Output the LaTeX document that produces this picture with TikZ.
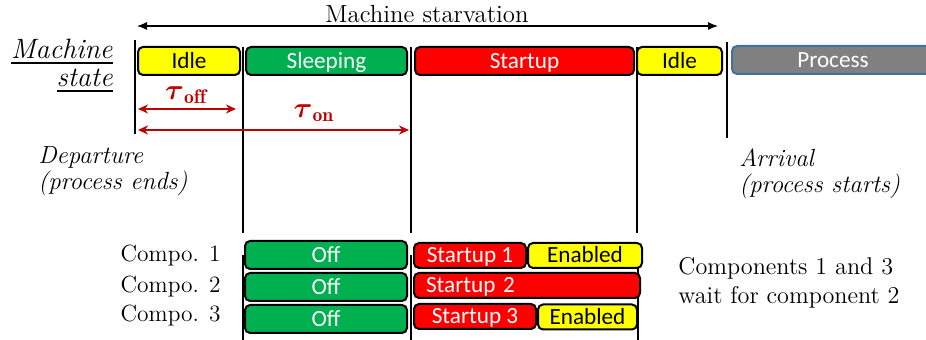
\documentclass[tikz,border=0pt]{standalone}
\usepackage{fontspec}
\usepackage{amsmath}
\usetikzlibrary{arrows.meta}
\newfontfamily\boxfont{Carlito}
\definecolor{idleyellow}{RGB}{255,255,0}
\definecolor{sleepgreen}{RGB}{0,176,80}
\definecolor{startred}{RGB}{255,0,0}
\definecolor{procgray}{RGB}{128,128,128}
\definecolor{procedge}{RGB}{65,113,156}
\definecolor{taured}{RGB}{192,0,0}
\begin{document}
\begin{tikzpicture}[x=0.5pt,y=-0.5pt,
  stbox/.style={draw=black, line width=1pt, rounded corners=2.5pt, inner sep=0pt,
    text height=7.9pt, text depth=0.5pt,
    font=\boxfont\fontsize{11.6}{12}\selectfont},
  yelbox/.style={stbox, fill=idleyellow, text=black},
  grnbox/.style={stbox, fill=sleepgreen, text=white},
  redbox/.style={stbox, fill=startred, text=white},
  prcbox/.style={stbox, draw=procedge, fill=procgray, text=white},
  topbox/.style={minimum height=14pt},
  rowbox/.style={minimum height=12.5pt},
  offbox/.style={grnbox, minimum height=14pt, minimum width=81pt},
  mark line/.style={line width=1pt, black},
  label/.style={font=\fontsize{12.1}{13}\selectfont, inner sep=0pt},
  itlabel/.style={label, font=\fontsize{12.4}{13}\selectfont\itshape},
  bigit/.style={label, font=\fontsize{14}{15}\selectfont\itshape},
  span/.style={line width=0.6pt, {Latex[length=5pt,width=4pt]}-{Latex[length=5pt,width=4pt]}},
  tauspan/.style={line width=1pt, taured, {Stealth[length=5pt,width=4.5pt]}-{Stealth[length=5pt,width=4.5pt]}},
  taulabel/.style={text=taured, inner sep=0pt, font=\fontsize{14}{16}\selectfont}]
\useasboundingbox (0,0) rectangle (926,340);
\clip (0,0) rectangle (926,340);

% event markers (drawn first, boxes sit on top)
\coordinate (m0t) at (135,40);  \coordinate (m0b) at (135,134);
\coordinate (m1t) at (243,47);  \coordinate (m1b) at (243,233);
\coordinate (m2t) at (411,47);  \coordinate (m2b) at (411,233);
\coordinate (m3t) at (637,47);  \coordinate (m3b) at (637,233);
\coordinate (m4t) at (727,42);  \coordinate (m4b) at (727,138);
\coordinate (n1t) at (243,255); \coordinate (n1b) at (243,340);
\coordinate (n2t) at (411,255); \coordinate (n2b) at (411,340);
\coordinate (n3t) at (638,255); \coordinate (n3b) at (638,340);
\foreach \a/\b in {m0t/m0b,m1t/m1b,m2t/m2b,m3t/m3b,m4t/m4b,n1t/n1b,n2t/n2b,n3t/n3b}
  \draw[mark line] (\a) -- (\b);

% starvation span
\coordinate (sl) at (137,26);
\coordinate (sr) at (718,26);
\draw[span] (sl) -- (sr);
\node[label, font=\fontsize{12.4}{13}\selectfont] (starv) at (427,14) {Machine starvation};

% machine state label
\node[bigit, anchor=east] (mach) at (113,52) {\underline{Machine}};
\node[bigit, anchor=east] (mstate) at (113,81) {\underline{state}};

% machine state timeline
\node[yelbox, topbox, minimum width=51pt] (idle1) at (189,61) {Idle};
\node[grnbox, topbox, minimum width=80.5pt] (sleep) at (326.5,61) {Sleeping};
\node[redbox, topbox, minimum width=109.5pt] (start) at (524.5,61) {Startup};
\node[yelbox, topbox, minimum width=42.5pt] (idle2) at (679.5,61) {Idle};
\node[prcbox, topbox, minimum width=101pt] (proc) at (833,60) {Process};

% timers
\coordinate (toffl) at (138,109); \coordinate (toffr) at (236,109);
\coordinate (tonl) at (138,130);  \coordinate (tonr) at (409,130);
\draw[tauspan] (toffl) -- (toffr);
\draw[tauspan] (tonl) -- (tonr);
\node[taulabel] (toff) at (186,95) {$\boldsymbol{\tau}_{\mathbf{off}}$};
\node[taulabel] (ton) at (314,113) {$\boldsymbol{\tau}_{\mathbf{on}}$};

% departure / arrival
\node[itlabel, anchor=west] (dep1) at (38,157) {Departure};
\node[itlabel, anchor=west] (dep2) at (38,183) {(process ends)};
\node[itlabel, anchor=west] (arr1) at (739,158) {Arrival};
\node[itlabel, anchor=west] (arr2) at (739,186) {(process starts)};

% components
\node[label, anchor=east, font=\fontsize{11.7}{13}\selectfont] (c1) at (221,256) {Compo. 1};
\node[label, anchor=east, font=\fontsize{11.7}{13}\selectfont] (c2) at (221,287) {Compo. 2};
\node[label, anchor=east, font=\fontsize{11.7}{13}\selectfont] (c3) at (221,316) {Compo. 3};

\node[offbox] (off1) at (326,255) {Off};
\node[offbox] (off2) at (326,287) {Off};
\node[offbox] (off3) at (326,319) {Off};

\node[redbox, rowbox, minimum width=56pt] (su1) at (470,255.5) {Startup 1};
\node[yelbox, rowbox, minimum width=57pt] (en1) at (585,255.5) {Enabled};
\node[redbox, rowbox, inner xsep=6pt, text width=101pt, align=left] (su2) at (527,285.5) {Startup 2};
\node[redbox, rowbox, minimum width=61pt] (su3) at (475,316.5) {Startup 3};
\node[yelbox, rowbox, minimum width=49.5pt] (en3) at (587.5,317) {Enabled};

\node[label, anchor=west] (wait1) at (678,268) {Components 1 and 3};
\node[label, anchor=west] (wait2) at (678,297) {wait for component 2};
\end{tikzpicture}
\end{document}
